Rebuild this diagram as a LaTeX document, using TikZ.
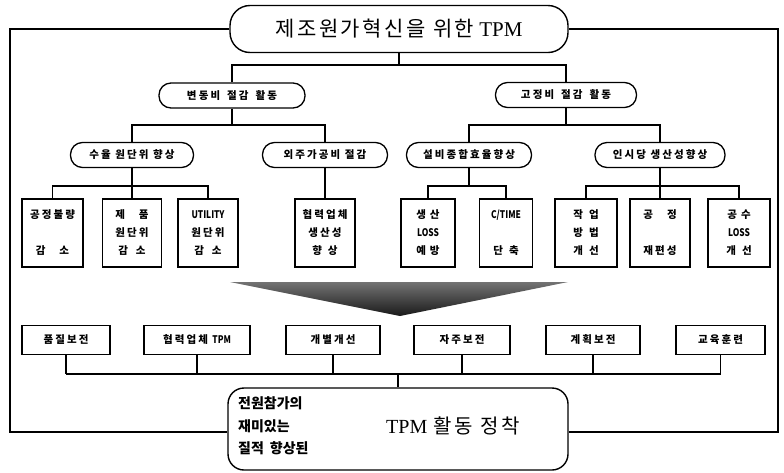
\documentclass[tikz,border=0pt]{standalone}
\usepackage{fontspec}
\setmainfont{Liberation Serif}
\newfontfamily\krl{Noto Sans CJK KR Black}[LetterSpace=20]
\newfontfamily\krc{Noto Sans CJK KR Black}
\newfontfamily\krt{Noto Sans CJK KR}[LetterSpace=12]
\newcommand{\cnd}[1]{{\krc\fontsize{10.5}{18}\selectfont\scalebox{0.8}[1]{#1}}}
\usetikzlibrary{calc}
\begin{document}
\begin{tikzpicture}[x=1pt,y=-1pt,
  lab/.style={font=\krl\fontsize{10.5}{18}\selectfont},
  pill/.style={draw, line width=1.3pt, fill=white, rounded corners=12pt, minimum height=25pt, inner sep=0pt, lab},
  tbox/.style={draw, line width=1.3pt, fill=white, minimum height=68pt, inner sep=0pt, align=center, lab},
  rbox/.style={draw, line width=1.3pt, fill=white, minimum height=29pt, inner sep=0pt, lab},
  conn/.style={line width=1.1pt},
  big/.style={font=\krc\fontsize{14}{16}\selectfont, anchor=west, inner sep=0pt}
]
\useasboundingbox (0,0) rectangle (784,472);

% title
\node[draw, line width=1.4pt, fill=white, rounded corners=20pt, minimum width=338pt, minimum height=47pt, inner sep=0pt,
      font=\fontsize{21}{24}\selectfont] (title) at (399,29) {{\krt 제조원가혁신을 위한} TPM};

% level 1
\node[pill, minimum width=146pt] (n1) at (232,95.5) {변동비\hspace{7pt}절감\hspace{7pt}활동};
\node[pill, minimum width=141pt] (n2) at (566,95) {고정비\hspace{7pt}절감\hspace{7pt}활동};

% level 2
\node[pill, minimum width=123pt] (a1) at (132,155) {수율 원단위 향상};
\node[pill, minimum width=125pt] (a2) at (325,155) {외주가공비 절감};
\node[pill, minimum width=125pt] (b1) at (469,155) {설비종합효율향상};
\node[pill, minimum width=130pt] (b2) at (660,155) {인시당 생산성향상};

% level 3
\node[tbox, minimum width=61pt] (t1) at (52.5,233) {공정불량\\\mbox{}\\감\hspace{14pt}소};
\node[tbox, minimum width=59pt] (t2) at (132,233) {제\hspace{14pt}품\\원단위\\감\hspace{8pt}소};
\node[tbox, minimum width=60pt] (t3) at (208,233) {\cnd{UTILITY}\\원단위\\감\hspace{8pt}소};
\node[tbox, minimum width=60pt] (t4) at (325,233) {협력업체\\생산성\\향\hspace{6pt}상};
\node[tbox, minimum width=54pt] (t5) at (428,233) {생\hspace{4pt}산\\\cnd{LOSS}\\예\hspace{4pt}방};
\node[tbox, minimum width=53pt] (t6) at (506,233) {\cnd{C/TIME}\\\mbox{}\\단\hspace{6pt}축};
\node[tbox, minimum width=62pt] (t7) at (586,233) {작\hspace{6pt}업\\방\hspace{6pt}법\\개\hspace{6pt}선};
\node[tbox, minimum width=60pt] (t8) at (660,233) {공\hspace{14pt}정\\\mbox{}\\재편성};
\node[tbox, minimum width=62pt] (t9) at (739,233) {공\hspace{4pt}수\\\cnd{LOSS}\\개\hspace{6pt}선};

% triangle
\shade[top color=black!55, bottom color=black!90] (230,282) -- (568,282) -- (400,316) -- cycle;

% bottom row
\node[rbox, minimum width=88pt]  (r1) at (66,340)  {품질보전};
\node[rbox, minimum width=106pt] (r2) at (197,340) {협력업체 \cnd{TPM}};
\node[rbox, minimum width=94pt]  (r3) at (333,340) {개별개선};
\node[rbox, minimum width=96pt]  (r4) at (462,340) {자주보전};
\node[rbox, minimum width=94pt]  (r5) at (593,340) {계획보전};
\node[rbox, minimum width=89pt]  (r6) at (720.5,340) {교육훈련};

% bottom box
\node[draw, line width=1.4pt, fill=white, rounded corners=16pt, minimum width=340pt, minimum height=82pt] (bot) at (398,429) {};
\node[big] (w1) at (238,403) {전원참가의};
\node[big] (w2) at (238,426) {재미있는};
\node[big] (w3) at (238,448) {질적\hspace{6pt}향상된};
\node[font=\fontsize{20}{22}\selectfont, inner sep=0pt] (w4) at (453,426) {TPM\hspace{6pt}{\krt 활동}\hspace{8pt}{\krt 정착}};

% connectors
\coordinate (y1) at (0,65);
\coordinate (y2) at (0,125);
\coordinate (y3) at (0,186);
\coordinate (y4) at (0,374);
\coordinate (fl) at (10,432);
\coordinate (fr) at (778,432);

\draw[conn] (title.south) -- (title.south |- y1);
\draw[conn] (n1.north) -- (n1.north |- y1) -- (n2.north |- y1) -- (n2.north);
\draw[conn] (n1.south) -- (n1.south |- y2);
\draw[conn] (a1.north) -- (a1.north |- y2) -- (a2.north |- y2) -- (a2.north);
\draw[conn] (n2.south) -- (n2.south |- y2);
\draw[conn] (b1.north) -- (b1.north |- y2) -- (b2.north |- y2) -- (b2.north);

\draw[conn] (a1.south) -- (t2.north);
\draw[conn] (t1.north) -- (t1.north |- y3) -- (t3.north |- y3) -- (t3.north);
\draw[conn] (a2.south) -- (t4.north);
\draw[conn] (b1.south) -- (b1.south |- y3);
\draw[conn] (t5.north) -- (t5.north |- y3) -- (t6.north |- y3) -- (t6.north);
\draw[conn] (b2.south) -- (t8.north);
\draw[conn] (t7.north) -- (t7.north |- y3) -- (t9.north |- y3) -- (t9.north);

\foreach \r in {r1,r2,r3,r4,r5,r6} { \draw[conn] (\r.south) -- (\r.south |- y4); }
\draw[conn] (r1.south |- y4) -- (r6.south |- y4);
\draw[conn] (bot.north |- y4) -- (bot.north);

\draw[conn] (title.west) -| (fl) -- (bot.west |- fl);
\draw[conn] (title.east) -| (fr) -- (bot.east |- fr);
\end{tikzpicture}
\end{document}
